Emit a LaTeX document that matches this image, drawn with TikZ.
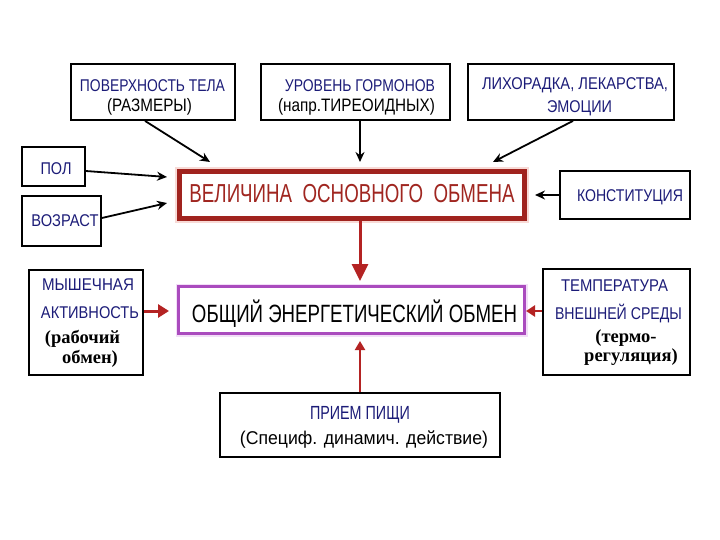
\documentclass[tikz,border=0pt]{standalone}
\usepackage{fontspec}
\setmainfont{Liberation Sans}
\newfontfamily\tnr{Liberation Serif}
\usetikzlibrary{arrows.meta}
\definecolor{navy}{RGB}{28,28,120}
\definecolor{bred}{RGB}{160,35,30}
\definecolor{tred}{RGB}{160,38,32}
\definecolor{glowred}{RGB}{248,218,214}
\definecolor{purp}{RGB}{170,75,190}
\definecolor{glowpurp}{RGB}{242,222,247}
\definecolor{ared}{RGB}{180,35,35}
\newcommand\fw[2]{\resizebox{#1}{\height}{#2}}
\begin{document}
\begin{tikzpicture}[x=1pt,y=-1pt,
  box/.style={draw=black, line width=1.8pt, fill=white, inner sep=0pt},
  lbl/.style={inner sep=0pt, text=navy, font=\fontsize{17}{20}\selectfont},
  sub/.style={inner sep=0pt, text=black, font=\fontsize{18}{21}\selectfont},
  boldlbl/.style={inner sep=0pt, text=black, font=\tnr\bfseries\fontsize{18.5}{20}\selectfont},
  blk/.style={draw=black, line width=1.8pt, -{Stealth[length=10pt,width=9pt]}},
  redbox/.style={draw=bred, line width=5pt, fill=white, inner sep=0pt,
    preaction={draw=glowred, line width=9pt}},
  purpbox/.style={draw=purp, line width=3pt, fill=white, inner sep=0pt,
    preaction={draw=glowpurp, line width=6pt}},
  redarr/.style={draw=ared, line width=3pt, -{Triangle[length=17pt,width=16pt]}},
]
\useasboundingbox[fill=white] (0,0) rectangle (720,540);

% boxes
\node[box, minimum width=164pt, minimum height=56pt] (surf) at (153,92) {};
\node[box, minimum width=189pt, minimum height=56pt] (horm) at (355.5,92) {};
\node[box, minimum width=206pt, minimum height=56pt] (fever) at (571,92) {};
\node[box, minimum width=63pt, minimum height=39pt] (sex) at (53.5,166.5) {};
\node[box, minimum width=79pt, minimum height=50pt] (age) at (61.5,221) {};
\node[box, minimum width=130pt, minimum height=48pt] (const) at (625,195) {};
\node[box, minimum width=114pt, minimum height=105pt] (musc) at (86,322.5) {};
\node[box, minimum width=147pt, minimum height=106pt] (temp) at (616.5,322) {};
\node[box, minimum width=280pt, minimum height=64pt] (food) at (360,425) {};
\node[redbox, minimum width=345pt, minimum height=47pt] (main) at (352,195) {};
\node[purpbox, minimum width=346pt, minimum height=47pt] (total) at (351.5,310) {};

% texts
\node[lbl] (t1a) at (152.5,86) {\fw{145pt}{ПОВЕРХНОСТЬ ТЕЛА}};
\node[sub] (t1b) at (149.5,107) {\fw{85pt}{(РАЗМЕРЫ)}};
\node[lbl] (t2a) at (360,86) {\fw{150pt}{УРОВЕНЬ ГОРМОНОВ}};
\node[sub] (t2b) at (356.5,107) {\fw{157pt}{(напр.ТИРЕОИДНЫХ)}};
\node[lbl] (t3a) at (575,85) {\fw{186pt}{ЛИХОРАДКА, ЛЕКАРСТВА,}};
\node[lbl] (t3b) at (579.5,108) {\fw{65pt}{ЭМОЦИИ}};
\node[lbl] (t4) at (56,169) {\fw{31pt}{ПОЛ}};
\node[lbl] (t5) at (65,221) {\fw{67pt}{ВОЗРАСТ}};
\node[lbl] (t6) at (630,197) {\fw{106pt}{КОНСТИТУЦИЯ}};
\node[inner sep=0pt, text=tred, font=\fontsize{26}{28}\selectfont] (t7) at (352,194) {\fw{325pt}{ВЕЛИЧИНА\ \ ОСНОВНОГО\ \ ОБМЕНА}};
\node[inner sep=0pt, text=black, font=\fontsize{25}{28}\selectfont] (t8) at (354.5,314) {\fw{325pt}{ОБЩИЙ ЭНЕРГЕТИЧЕСКИЙ ОБМЕН}};
\node[lbl] (t9a) at (88,285) {\fw{92pt}{МЫШЕЧНАЯ}};
\node[lbl] (t9b) at (90,313) {\fw{98pt}{АКТИВНОСТЬ}};
\node[boldlbl] (t9c) at (82.5,339) {(рабочий};
\node[boldlbl] (t9d) at (90,359) {обмен)};
\node[lbl] (t10a) at (614.5,286) {\fw{107pt}{ТЕМПЕРАТУРА}};
\node[lbl] (t10b) at (618.5,314) {\fw{127pt}{ВНЕШНЕЙ СРЕДЫ}};
\node[boldlbl] (t10c) at (626,338) {(термо-};
\node[boldlbl] (t10d) at (631,357) {регуляция)};
\node[lbl, font=\fontsize{19}{22}\selectfont] (t11a) at (360,415) {\fw{100pt}{ПРИЕМ ПИЩИ}};
\node[sub, font=\fontsize{18.5}{22}\selectfont] (t11b) at (364,440) {\fw{248pt}{(Специф. динамич. действие)}};

% black arrows
\draw[blk] ([xshift=-8pt]surf.south) -- ([xshift=33pt,yshift=7pt]main.north west);
\draw[blk] ([xshift=4.5pt]horm.south) -- ([xshift=8pt,yshift=7pt]main.north);
\draw[blk] ([xshift=2pt]fever.south) -- ([xshift=-34pt,yshift=7pt]main.north east);
\draw[blk] ([yshift=-4.5pt]sex.east) -- ([xshift=-10pt,yshift=-8pt]main.north west);
\draw[blk] ([yshift=3pt]age.east) -- ([xshift=-10pt,yshift=-34pt]main.north west);
\draw[blk] (const.west) -- ([xshift=8pt]main.east);

% red arrows
\draw[redarr, shorten >=4pt] ([xshift=8pt]main.south) -- ([xshift=8.5pt]total.north);
\draw[draw=ared, line width=2pt, -{Triangle[length=9pt,width=10pt]}, shorten >=6pt] (food.north) -- ([xshift=8.5pt]total.south);
\draw[draw=ared, line width=3pt, -{Triangle[length=11pt,width=13pt]}, shorten >=8pt] ([yshift=11.5pt]musc.east) -- ([yshift=-1pt]total.west);
\draw[draw=ared, line width=2.5pt, -{Triangle[length=9pt,width=11pt]}] ([yshift=11pt]temp.west) -- ([yshift=-1pt]total.east);
\end{tikzpicture}
\end{document}
